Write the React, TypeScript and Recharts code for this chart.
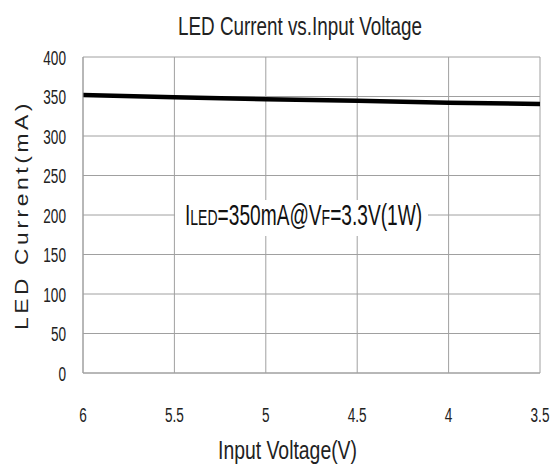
import React from 'react';
import { LineChart, Line, XAxis, YAxis, CartesianGrid } from 'recharts';

const voltage = [6, 5.5, 5, 4.5, 4, 3.5];
const current = [352, 349, 346.5, 344.5, 342, 340.5];
const yTicks = [0, 50, 100, 150, 200, 250, 300, 350, 400];

const data = voltage.map((v, i) => ({ v, mA: current[i] }));

const font = "'Liberation Sans', Arial, sans-serif";

// digits in the picture are a narrow face, so squeeze Liberation Sans
const XTick = (props: any) => {
  const { x, payload } = props;
  return (
    <text transform={`translate(${x}, 422) scale(0.68, 1)`} textAnchor="middle" fontSize={20} fontFamily={font} fill="#222">
      {payload.value}
    </text>
  );
};

const YTick = (props: any) => {
  const { y, payload } = props;
  return (
    <text transform={`translate(66, ${y + 7.5}) scale(0.68, 1)`} textAnchor="end" fontSize={20} fontFamily={font} fill="#222">
      {payload.value}
    </text>
  );
};

export default function App() {
  return (
    <div style={{ position: 'absolute', left: 0, top: 0, width: 559, height: 470, background: '#fff' }}>
      <LineChart width={559} height={470} data={data} margin={{ top: 57, right: 19, bottom: 0, left: 0 }}>
        <CartesianGrid stroke="#a0a0a0" strokeWidth={1} />
        <XAxis
          dataKey="v"
          type="number"
          domain={[3.5, 6]}
          reversed
          ticks={voltage}
          interval={0}
          height={97}
          tickLine={false}
          axisLine={{ stroke: '#a0a0a0' }}
          tick={<XTick />}
        />
        <YAxis
          type="number"
          domain={[0, 400]}
          ticks={yTicks}
          interval={0}
          width={83}
          tickLine={false}
          axisLine={{ stroke: '#a0a0a0' }}
          tick={<YTick />}
        />
        <Line
          dataKey="mA"
          type="linear"
          stroke="#000"
          strokeWidth={4.5}
          dot={false}
          isAnimationActive={false}
        />
      </LineChart>
      <svg width={559} height={470} style={{ position: 'absolute', left: 0, top: 0 }}>
        <text x={300} y={35} textAnchor="middle" fontSize={25} fontFamily={font} fill="#222" textLength={244} lengthAdjust="spacingAndGlyphs">
          LED Current vs.Input Voltage
        </text>
        <text x={287.5} y={459} textAnchor="middle" fontSize={26} fontFamily={font} fill="#222" textLength={139} lengthAdjust="spacingAndGlyphs">
          Input Voltage(V)
        </text>
        <text transform="translate(28, 215) rotate(-90) scale(1.2, 1)" textAnchor="middle" fontSize={19} letterSpacing={3} fontFamily={font} fill="#222">
          LED Current(mA)
        </text>
        <rect x={175} y={200} width={253} height={36} fill="#fff" />
        <text transform="translate(185, 225) scale(0.638, 1)" fontSize={30} fontFamily={font} fill="#111">
          I<tspan fontSize={22}>LED</tspan>=350mA@V<tspan fontSize={22}>F</tspan>=3.3V(1W)
        </text>
      </svg>
    </div>
  );
}
